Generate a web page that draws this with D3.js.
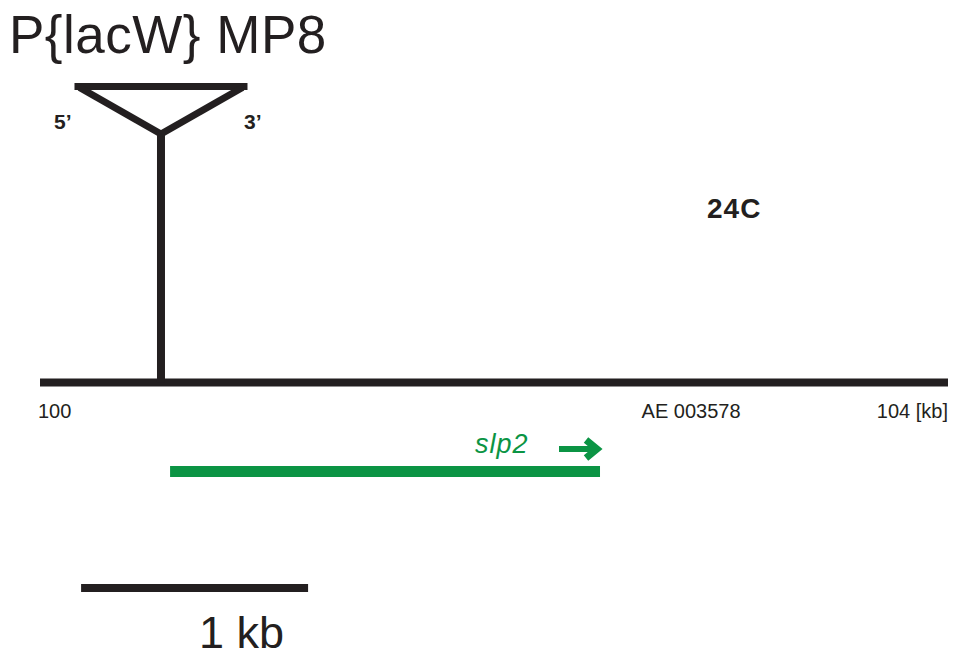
<!DOCTYPE html>
<html>
<head>
<meta charset="utf-8">
<script src="https://cdn.jsdelivr.net/npm/d3@7"></script>
<style>
  body { margin: 0; background: #fff; }
  svg { display: block; font-family: "Liberation Sans", Arial, sans-serif; }
</style>
</head>
<body>
<div id="chart"></div>
<script>
// genomic region shown (kb)
var regionKb = [100, 104];
var tickLabels = [{pos: 100, text: "100", anchor: "start"}, {pos: 104, text: "104 [kb]", anchor: "end"}];
var accession = {pos: 102.65, text: "AE 003578"};
var bandLabel = "24C";

// insertion
var insertName = "P{lacW} MP8";
var insertPos = 100.533;
var insertEnds = ["5\u2019", "3\u2019"];

// gene
var geneName = "slp2";
var geneSpan = [100.573, 102.467];

// scale bar
var scaleBarStart = 100.181;
var scaleBarLen = 1;
var scaleBarLabel = "1 kb";

var W = 953, H = 658;
var ink = "#231f20", green = "#0b9444";

var svg = d3.select("#chart").append("svg")
  .attr("width", W).attr("height", H);

var x = d3.scaleLinear().domain(regionKb).range([40, 948]);

// title
svg.append("text")
  .attr("x", 9).attr("y", 53)
  .style("font-size", "53px")
  .style("letter-spacing", "0.5px")
  .attr("fill", ink)
  .text(insertName);

// genomic line
var yLine = 382.5;
svg.append("line")
  .attr("x1", x(regionKb[0])).attr("x2", x(regionKb[1]))
  .attr("y1", yLine).attr("y2", yLine)
  .attr("stroke", ink).attr("stroke-width", 8);

// insertion: stem + triangle
var xi = x(insertPos);
var apexY = 132, topY = 86.5, halfW = 86.5;
svg.append("line")
  .attr("x1", xi).attr("x2", xi)
  .attr("y1", apexY).attr("y2", yLine)
  .attr("stroke", ink).attr("stroke-width", 8);

svg.append("line")
  .attr("x1", xi - halfW).attr("x2", xi + halfW)
  .attr("y1", topY).attr("y2", topY)
  .attr("stroke", ink).attr("stroke-width", 7);

[-1, 1].forEach(function(s){
  svg.append("line")
    .attr("x1", xi + s*(halfW - 5)).attr("y1", topY + 1)
    .attr("x2", xi).attr("y2", apexY + 2)
    .attr("stroke", ink).attr("stroke-width", 7)
    .attr("stroke-linecap", "butt");
});

svg.selectAll(".ends")
  .data(insertEnds)
  .enter().append("text")
  .attr("class", "ends")
  .attr("x", function(d, i){ return i == 0 ? xi - 107 : xi + 83; })
  .attr("y", 129)
  .style("font-size", "21px").style("font-weight", "bold")
  .attr("fill", ink)
  .text(function(d){ return d; });

// band
svg.append("text")
  .attr("x", 707).attr("y", 218)
  .style("font-size", "28px").style("font-weight", "bold")
  .style("letter-spacing", "1px")
  .attr("fill", ink)
  .text(bandLabel);

// tick labels
svg.selectAll(".tick")
  .data(tickLabels)
  .enter().append("text")
  .attr("class", "tick")
  .attr("x", function(d){ return d.anchor == "start" ? x(d.pos) - 2 : x(d.pos); })
  .attr("y", 418)
  .attr("text-anchor", function(d){ return d.anchor; })
  .style("font-size", "20px")
  .attr("fill", ink)
  .text(function(d){ return d.text; });

svg.append("text")
  .attr("x", x(accession.pos)).attr("y", 418)
  .style("font-size", "20px")
  .attr("fill", ink)
  .text(accession.text);

// gene bar
var yGene = 471.5;
svg.append("line")
  .attr("x1", x(geneSpan[0])).attr("x2", x(geneSpan[1]))
  .attr("y1", yGene).attr("y2", yGene)
  .attr("stroke", green).attr("stroke-width", 11);

svg.append("text")
  .attr("x", x(geneSpan[1]) - 125).attr("y", 453)
  .style("font-size", "27px").style("font-style", "italic")
  .style("letter-spacing", "1px")
  .attr("fill", green)
  .text(geneName);

// direction arrow
var xe = x(geneSpan[1]);
svg.append("line")
  .attr("x1", xe - 41).attr("x2", xe - 6)
  .attr("y1", 449).attr("y2", 449)
  .attr("stroke", green).attr("stroke-width", 6);
svg.append("path")
  .attr("d", "M" + (xe - 14) + ",440 L" + (xe - 3) + ",449 L" + (xe - 14) + ",458")
  .attr("fill", "none")
  .attr("stroke", green).attr("stroke-width", 7);

// scale bar
svg.append("line")
  .attr("x1", x(scaleBarStart)).attr("x2", x(scaleBarStart + scaleBarLen))
  .attr("y1", 588).attr("y2", 588)
  .attr("stroke", ink).attr("stroke-width", 8);

svg.append("text")
  .attr("x", 199).attr("y", 648)
  .style("font-size", "45px")
  .attr("fill", ink)
  .text(scaleBarLabel);
</script>
</body>
</html>
